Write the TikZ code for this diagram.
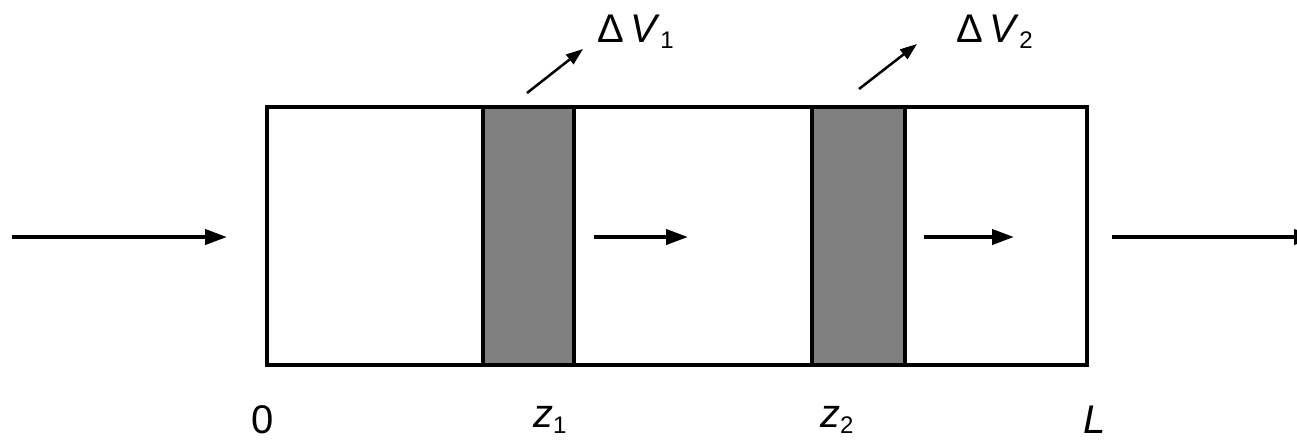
\documentclass[tikz,border=0pt]{standalone}
\usepackage{fontspec}
\setmainfont{Liberation Sans}
\usetikzlibrary{arrows.meta}
\definecolor{bandgray}{RGB}{128,128,128}
\tikzset{
  frame/.style={draw=black, line width=4pt},
  band/.style={draw=black, fill=bandgray, line width=4pt},
  flow/.style={line width=4pt, -{Triangle[length=22pt,width=15pt]}},
  flux/.style={line width=2.5pt, -{Triangle[length=17pt,width=12pt]}},
  lbl/.style={font=\fontsize{40}{48}\selectfont, inner sep=0pt, anchor=base west},
}
\newcommand{\subidx}[1]{\raisebox{-6pt}{\fontsize{24}{28}\selectfont #1}}
\begin{document}
\begin{tikzpicture}[x=1pt,y=-1pt]
\useasboundingbox (0,0) rectangle (1297,440);
\begin{scope}
\clip (0,0) rectangle (1297,440);
% bands
\node[band, minimum width=91pt, minimum height=258pt, inner sep=0pt] (b1) at (528.5,236) {};
\node[band, minimum width=93pt, minimum height=258pt, inner sep=0pt] (b2) at (858.5,236) {};
% outer frame
\node[frame, minimum width=820pt, minimum height=258pt, inner sep=0pt] (box) at (677,236) {};
% flow arrows
\coordinate (inA) at (12,237);
\coordinate (inB) at (227,237);
\draw[flow] (inA) -- (inB);
\coordinate (m1A) at (594,237);
\coordinate (m1B) at (688,237);
\draw[flow] (m1A) -- (m1B);
\coordinate (m2A) at (924,237);
\coordinate (m2B) at (1014,237);
\draw[flow] (m2A) -- (m2B);
\coordinate (outA) at (1112,237);
\coordinate (outB) at (1316,237);
\draw[flow] (outA) -- (outB);
% flux arrows
\coordinate (d1A) at (527,93);
\coordinate (d1B) at (583,49);
\draw[flux] (d1A) -- (d1B);
\coordinate (d2A) at (859,89);
\coordinate (d2B) at (917,44);
\draw[flux] (d2A) -- (d2B);
\end{scope}
% labels
\node[lbl] (dv1) at (597,42) {Δ\,\textit{V}\subidx{1}};
\node[lbl] (dv2) at (956,42) {Δ\,\textit{V}\subidx{2}};
\node[lbl] (zero) at (251,433) {0};
\node[lbl] (z1) at (533,427) {\textit{z}\subidx{1}};
\node[lbl] (z2) at (820,427) {\textit{z}\subidx{2}};
\node[lbl] (ell) at (1083,433) {\textit{L}};
\end{tikzpicture}
\end{document}
